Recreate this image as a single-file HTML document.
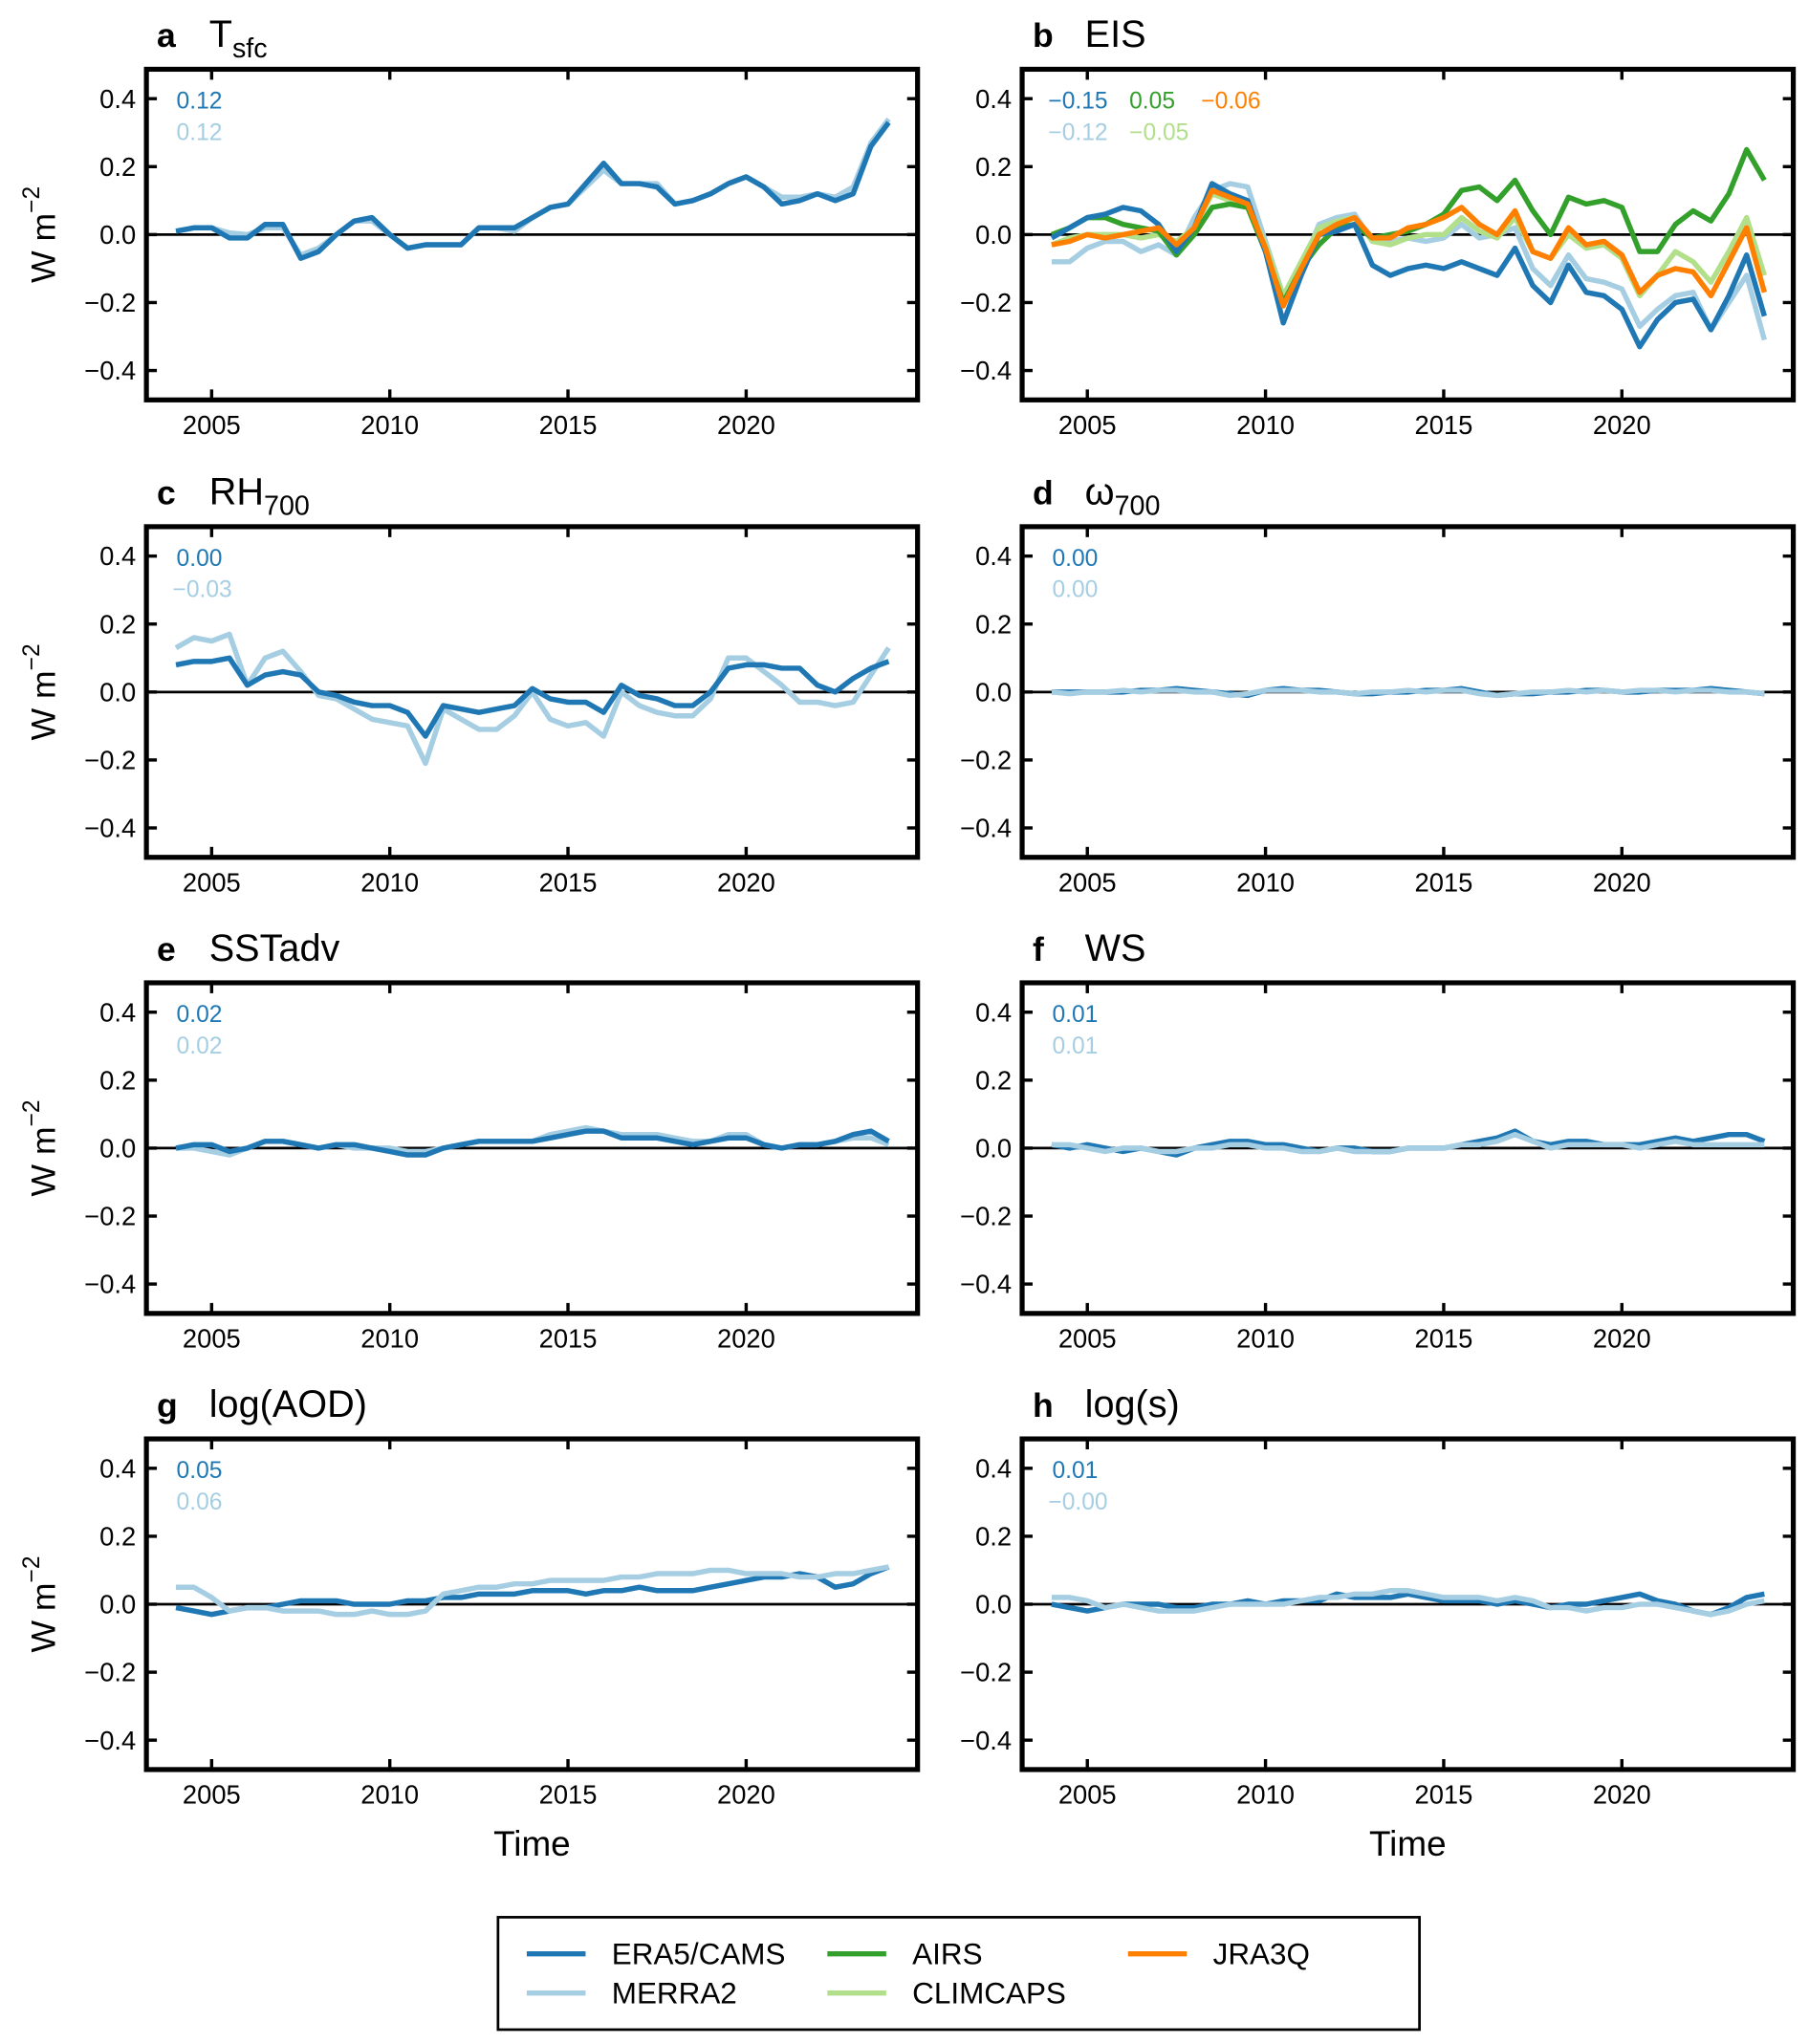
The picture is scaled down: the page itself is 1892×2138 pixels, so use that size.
<!DOCTYPE html>
<html><head><meta charset="utf-8"><style>
html,body{margin:0;padding:0;background:#fff}
svg{display:block}
text{font-family:"Liberation Sans",sans-serif}
</style></head><body>
<svg id="fig" width="1892" height="2138" viewBox="0 0 1384 1564" xmlns="http://www.w3.org/2000/svg"></svg>
<script>
const years=[];for(let i=0;i<=40;i++)years.push(2004+i*0.5);
const xTicks=[2005,2010,2015,2020];
const yTicks=[0.4,0.2,0.0,-0.2,-0.4];
const yTickLabels=["0.4","0.2","0.0","\u22120.2","\u22120.4"];
const tsfcEra=[0.01,0.02,0.02,-0.01,-0.01,0.03,0.03,-0.07,-0.05,0.0,0.04,0.05,0.0,-0.04,-0.03,-0.03,-0.03,0.02,0.02,0.02,0.05,0.08,0.09,0.15,0.21,0.15,0.15,0.14,0.09,0.1,0.12,0.15,0.17,0.14,0.09,0.1,0.12,0.1,0.12,0.26,0.33];
const tsfcMerra=[0.01,0.02,0.02,0.005,0.0,0.02,0.02,-0.06,-0.04,0.0,0.04,0.04,0.0,-0.04,-0.03,-0.03,-0.03,0.02,0.02,0.01,0.05,0.08,0.09,0.14,0.19,0.15,0.15,0.15,0.09,0.1,0.12,0.15,0.17,0.14,0.11,0.11,0.12,0.11,0.14,0.27,0.34];
const eisEra=[-0.01,0.02,0.05,0.06,0.08,0.07,0.03,-0.05,0.02,0.15,0.12,0.10,-0.05,-0.26,-0.12,0.0,0.01,0.03,-0.09,-0.12,-0.10,-0.09,-0.10,-0.08,-0.10,-0.12,-0.04,-0.15,-0.20,-0.09,-0.17,-0.18,-0.22,-0.33,-0.25,-0.20,-0.19,-0.28,-0.18,-0.06,-0.24];
const eisMerra=[-0.08,-0.08,-0.04,-0.02,-0.02,-0.05,-0.03,-0.06,0.05,0.13,0.15,0.14,-0.02,-0.18,-0.10,0.03,0.05,0.06,-0.02,-0.02,-0.01,-0.02,-0.01,0.03,-0.01,0.0,0.02,-0.10,-0.15,-0.06,-0.13,-0.14,-0.16,-0.27,-0.22,-0.18,-0.17,-0.28,-0.20,-0.12,-0.31];
const eisAirs=[0.0,0.02,0.05,0.05,0.03,0.02,0.01,-0.06,0.0,0.08,0.09,0.08,-0.05,-0.20,-0.10,-0.03,0.02,0.03,-0.01,0.0,0.01,0.03,0.06,0.13,0.14,0.10,0.16,0.07,0.0,0.11,0.09,0.10,0.08,-0.05,-0.05,0.03,0.07,0.04,0.12,0.25,0.16];
const eisClim=[-0.03,-0.01,0.0,0.0,0.0,-0.01,0.0,-0.02,0.02,0.12,0.10,0.09,-0.03,-0.18,-0.08,0.02,0.04,0.05,-0.02,-0.03,-0.01,0.0,0.0,0.05,0.01,-0.01,0.05,-0.05,-0.07,0.0,-0.04,-0.03,-0.07,-0.18,-0.12,-0.05,-0.08,-0.14,-0.05,0.05,-0.12];
const eisJra=[-0.03,-0.02,0.0,-0.01,0.0,0.01,0.02,-0.03,0.02,0.13,0.11,0.09,-0.04,-0.21,-0.10,0.0,0.03,0.05,-0.01,-0.01,0.02,0.03,0.05,0.08,0.03,0.0,0.07,-0.05,-0.07,0.02,-0.03,-0.02,-0.06,-0.17,-0.12,-0.10,-0.11,-0.18,-0.08,0.02,-0.17];
const rhEra=[0.08,0.09,0.09,0.1,0.02,0.05,0.06,0.05,0.0,-0.01,-0.03,-0.04,-0.04,-0.06,-0.13,-0.04,-0.05,-0.06,-0.05,-0.04,0.01,-0.02,-0.03,-0.03,-0.06,0.02,-0.01,-0.02,-0.04,-0.04,0.0,0.07,0.08,0.08,0.07,0.07,0.02,0.0,0.04,0.07,0.09];
const rhMerra=[0.13,0.16,0.15,0.17,0.02,0.1,0.12,0.06,-0.01,-0.02,-0.05,-0.08,-0.09,-0.1,-0.21,-0.05,-0.08,-0.11,-0.11,-0.07,0.0,-0.08,-0.1,-0.09,-0.13,0.0,-0.04,-0.06,-0.07,-0.07,-0.02,0.1,0.1,0.06,0.02,-0.03,-0.03,-0.04,-0.03,0.05,0.13];
const omEra=[0,0,0,0,0,0.005,0.005,0.01,0.005,0,-0.005,-0.01,0.005,0.01,0.005,0.005,0,-0.005,-0.005,0,0,0.005,0.005,0.01,0,-0.01,-0.005,-0.005,0,0,0.005,0.005,0,0,0.005,0.005,0.005,0.01,0.005,0,-0.005];
const omMerra=[0,-0.005,0,0,0.005,0,0.005,0.005,0,0,-0.01,-0.005,0.005,0.005,0.005,0,0,-0.005,0,0,0.005,0,0.005,0.005,-0.005,-0.01,-0.005,0,0,0.005,0,0.005,0,0.005,0.005,0,0.005,0.005,0,0,-0.005];
const sstEra=[0,0.01,0.01,-0.01,0,0.02,0.02,0.01,0,0.01,0.01,0,-0.01,-0.02,-0.02,0,0.01,0.02,0.02,0.02,0.02,0.03,0.04,0.05,0.05,0.03,0.03,0.03,0.02,0.01,0.02,0.03,0.03,0.01,0,0.01,0.01,0.02,0.04,0.05,0.02];
const sstMerra=[0,0,-0.01,-0.02,0,0.02,0.02,0.01,0,0.01,0,0,0,-0.01,-0.01,0,0.01,0.02,0.02,0.02,0.02,0.04,0.05,0.06,0.05,0.04,0.04,0.04,0.03,0.02,0.02,0.04,0.04,0.01,0,0.01,0.01,0.02,0.03,0.03,0.01];
const wsEra=[0.01,0,0.01,0,-0.01,0,-0.01,-0.02,0,0.01,0.02,0.02,0.01,0.01,0,-0.01,0,0,-0.01,-0.01,0,0,0,0.01,0.02,0.03,0.05,0.02,0.01,0.02,0.02,0.01,0.01,0.01,0.02,0.03,0.02,0.03,0.04,0.04,0.02];
const wsMerra=[0.01,0.01,0,-0.01,0,0,-0.01,-0.01,0,0,0.01,0.01,0,0,-0.01,-0.01,0,-0.01,-0.01,-0.01,0,0,0,0.01,0.01,0.02,0.04,0.02,0,0.01,0.01,0.01,0.01,0,0.01,0.02,0.01,0.01,0.01,0.01,0.01];
const aodEra=[-0.01,-0.02,-0.03,-0.02,-0.01,-0.01,0.0,0.01,0.01,0.01,0.0,0.0,0.0,0.01,0.01,0.02,0.02,0.03,0.03,0.03,0.04,0.04,0.04,0.03,0.04,0.04,0.05,0.04,0.04,0.04,0.05,0.06,0.07,0.08,0.08,0.09,0.08,0.05,0.06,0.09,0.11];
const aodMerra=[0.05,0.05,0.02,-0.02,-0.01,-0.01,-0.02,-0.02,-0.02,-0.03,-0.03,-0.02,-0.03,-0.03,-0.02,0.03,0.04,0.05,0.05,0.06,0.06,0.07,0.07,0.07,0.07,0.08,0.08,0.09,0.09,0.09,0.1,0.1,0.09,0.09,0.09,0.08,0.08,0.09,0.09,0.1,0.11];
const sEra=[0,-0.01,-0.02,-0.01,0,0,0,-0.01,-0.01,0,0,0.01,0,0.01,0.01,0.01,0.03,0.02,0.02,0.02,0.03,0.02,0.01,0.01,0.01,0,0.01,0,-0.01,0,0,0.01,0.02,0.03,0.01,0,-0.02,-0.03,-0.01,0.02,0.03];
const sMerra=[0.02,0.02,0.01,-0.01,0,-0.01,-0.02,-0.02,-0.02,-0.01,0,0,0,0,0.01,0.02,0.02,0.03,0.03,0.04,0.04,0.03,0.02,0.02,0.02,0.01,0.02,0.01,-0.01,-0.01,-0.02,-0.01,-0.01,0,0,-0.01,-0.02,-0.03,-0.02,0,0.01];

const C={era:"#1f78b4",merra:"#a6cee3",airs:"#33a02c",clim:"#b2df8a",jra:"#ff7f00"};
const NS="http://www.w3.org/2000/svg";
const svg=document.getElementById('fig');
function el(tag,attrs,parent,txt){const e=document.createElementNS(NS,tag);for(const k in attrs)e.setAttribute(k,attrs[k]);if(txt!==undefined)e.textContent=txt;(parent||svg).appendChild(e);return e;}

const panels=[
 {id:"a",name:"tsfc",title:["T","sfc"],x:112,y:53,series:[["merra",tsfcMerra],["era",tsfcEra]],ann:[[["era","0.12"]],[["merra","0.12"]]]},
 {id:"b",name:"eis",title:["EIS",""],x:782,y:53,series:[["merra",eisMerra],["clim",eisClim],["airs",eisAirs],["era",eisEra],["jra",eisJra]],ann:[[["era","\u22120.15"],["airs","0.05"],["jra","\u22120.06"]],[["merra","\u22120.12"],["clim","\u22120.05"]]]},
 {id:"c",name:"rh700",title:["RH","700"],x:112,y:403,series:[["merra",rhMerra],["era",rhEra]],ann:[[["era","0.00"]],[["merra","\u22120.03"]]]},
 {id:"d",name:"omega700",title:["\u03c9","700"],x:782,y:403,series:[["era",omEra],["merra",omMerra]],ann:[[["era","0.00"]],[["merra","0.00"]]]},
 {id:"e",name:"sstadv",title:["SSTadv",""],x:112,y:752,series:[["merra",sstMerra],["era",sstEra]],ann:[[["era","0.02"]],[["merra","0.02"]]]},
 {id:"f",name:"ws",title:["WS",""],x:782,y:752,series:[["era",wsEra],["merra",wsMerra]],ann:[[["era","0.01"]],[["merra","0.01"]]]},
 {id:"g",name:"log-aod",title:["log(AOD)",""],x:112,y:1101,series:[["era",aodEra],["merra",aodMerra]],ann:[[["era","0.05"]],[["merra","0.06"]]]},
 {id:"h",name:"log-s",title:["log(s)",""],x:782,y:1101,series:[["era",sEra],["merra",sMerra]],ann:[[["era","0.01"]],[["merra","\u22120.00"]]]}
];
const W=590,H=253,YR=0.4865,X0=2003.17,X1=2024.81;
panels.forEach((p,pi)=>{
 const g=el('g',{});
 
 
 const sx=v=>p.x+(v-X0)/(X1-X0)*W;
 const sy=v=>p.y+H/2-v/YR*(H/2);
 const t=el('text',{x:p.x+8,y:p.y-17,'font-size':26,'font-weight':'bold'},g,p.id);
 
 const tt=el('text',{x:p.x+48,y:p.y-17,'font-size':29},g);
 
 el('tspan',{},tt,p.title[0]);
 if(p.title[1])el('tspan',{dy:8,'font-size':21},tt,p.title[1]);
 const z=el('line',{x1:p.x,x2:p.x+W,y1:sy(0),y2:sy(0),stroke:'#000','stroke-width':2},g);
 
 p.series.forEach(([k,arr])=>{
  const d=arr.map((v,i)=>(i?'L':'M')+sx(years[i]).toFixed(1)+','+sy(v).toFixed(1)).join('');
  const l=el('path',{d:d,fill:'none',stroke:C[k],'stroke-width':4,'stroke-linejoin':'round'},g);
  
  
 });
 yTicks.forEach((v,i)=>{
  el('line',{x1:p.x,x2:p.x+8,y1:sy(v),y2:sy(v),stroke:'#000','stroke-width':2.5},g);
  el('line',{x1:p.x+W-8,x2:p.x+W,y1:sy(v),y2:sy(v),stroke:'#000','stroke-width':2.5},g);
  const lb=el('text',{x:p.x-8,y:sy(v)+7,'font-size':20,'text-anchor':'end'},g,yTickLabels[i]);
  
 });
 xTicks.forEach(v=>{
  el('line',{x1:sx(v),x2:sx(v),y1:p.y,y2:p.y+8,stroke:'#000','stroke-width':2.5},g);
  el('line',{x1:sx(v),x2:sx(v),y1:p.y+H-8,y2:p.y+H,stroke:'#000','stroke-width':2.5},g);
  const lb=el('text',{x:sx(v),y:p.y+H+26,'font-size':20,'text-anchor':'middle'},g,String(v));
  
 });
 const fr=el('rect',{x:p.x,y:p.y,width:W,height:H,fill:'none',stroke:'#000','stroke-width':3.8},g);
 
 p.ann.forEach((row,ri)=>{
  row.forEach(([k,s],ci)=>{
   const ax=p.id==='b'?[p.x+20,p.x+82,p.x+137][ci]:p.x+(s.startsWith('\u2212')?20:23);
   const a=el('text',{x:ax,y:p.y+30+ri*24,'font-size':18,fill:C[k]},g,s);
   
  });
 });
 if(p.x<500){
  const yl=el('text',{transform:`translate(42,${p.y+H/2}) rotate(-90)`,'font-size':26,'text-anchor':'middle'},g);
  
  el('tspan',{},yl,'W m');el('tspan',{dy:-12,'font-size':18},yl,'\u22122');
 }
});
['407','1077'].forEach(x=>{const t=el('text',{x:x,y:1420,'font-size':27,'text-anchor':'middle'},svg,'Time');
 });
const lg=el('g',{});

el('rect',{x:381,y:1467,width:705,height:86,fill:'#fff',stroke:'#000','stroke-width':2},lg);
const legendItems=[["era","ERA5/CAMS",403,1495],["merra","MERRA2",403,1525],["airs","AIRS",633,1495],["clim","CLIMCAPS",633,1525],["jra","JRA3Q",863,1495]];
legendItems.forEach(([k,lab,x,y])=>{
 const e=el('g',{},lg);
 
 el('line',{x1:x,x2:x+45,y1:y,y2:y,stroke:C[k],'stroke-width':4},e);
 el('text',{x:x+65,y:y+8,'font-size':23},e,lab);
});
</script>
</body></html>
